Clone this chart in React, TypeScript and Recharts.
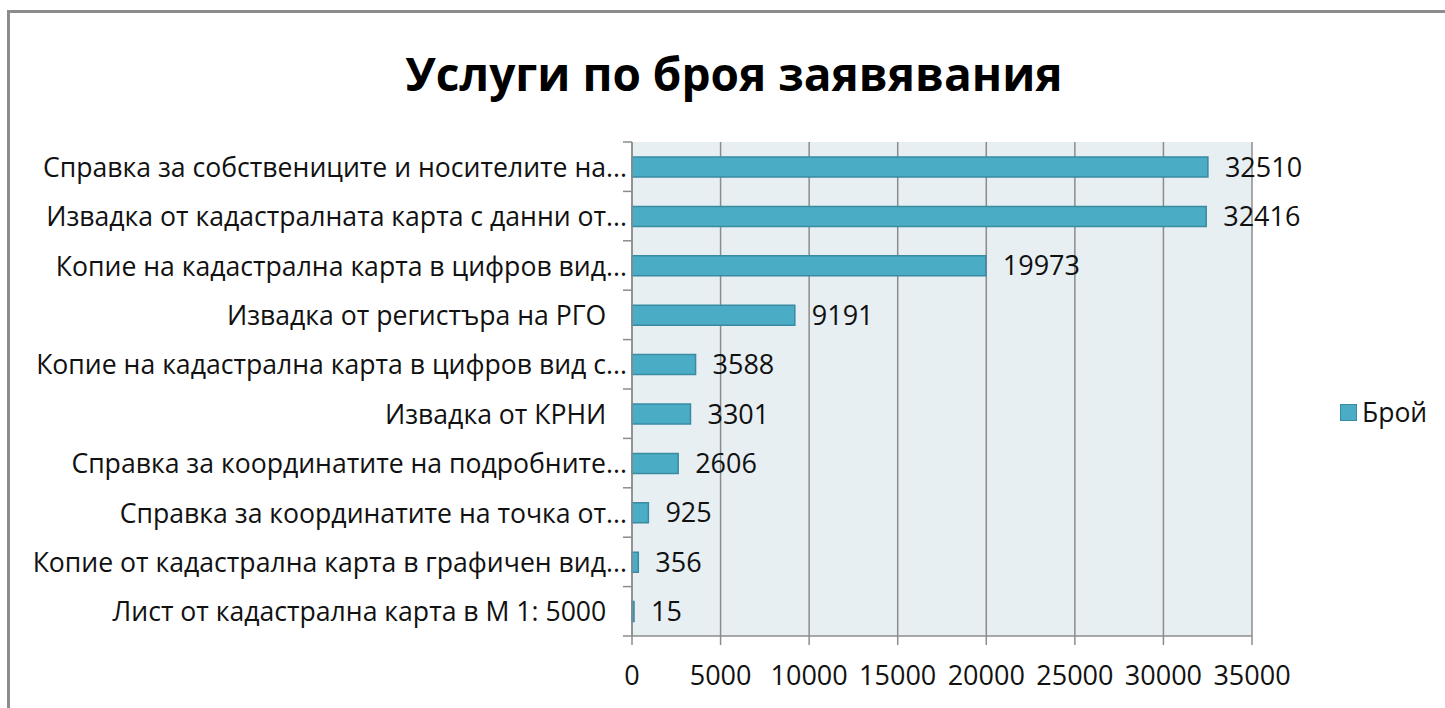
import React from 'react';
import {
  BarChart,
  Bar,
  XAxis,
  YAxis,
  CartesianGrid,
  LabelList,
  Legend,
} from 'recharts';

const chartTitle = 'Услуги по броя заявявания';
const seriesName = 'Брой';

const categories = [
  'Справка за собствениците и носителите на...',
  'Извадка от кадастралната карта с данни от...',
  'Копие на кадастрална карта в цифров вид...',
  'Извадка от регистъра на РГО\u00a0\u00a0\u00a0',
  'Копие на кадастрална карта в цифров вид с...',
  'Извадка от КРНИ\u00a0\u00a0\u00a0',
  'Справка за координатите на подробните...',
  'Справка за координатите на точка от...',
  'Копие от кадастрална карта в графичен вид...',
  'Лист от кадастрална карта в М 1: 5000\u00a0\u00a0\u00a0',
];
const counts = [32510, 32416, 19973, 9191, 3588, 3301, 2606, 925, 356, 15];
const xTicks = [0, 5000, 10000, 15000, 20000, 25000, 30000, 35000];

const chartData = categories.map((name, i) => ({ name, value: counts[i] }));

const FONT = '"Open Sans", sans-serif';
const GRID = '#8c8c8c';
const BAR = '#4bacc6';
const BAR_EDGE = '#3a8aa2';

// category tick: label + short tick marks on the category boundaries (Excel style)
const CategoryTick = (props: any) => {
  const { x, y, payload, index, visibleTicksCount, height } = props;
  const half = payload?.offset > 0 ? payload.offset : height / (visibleTicksCount * 2);
  const axisX = x + 5;
  return (
    <g>
      <line x1={axisX - 9} x2={axisX} y1={y - half} y2={y - half} stroke={GRID} strokeWidth={1.5} />
      {index === visibleTicksCount - 1 && (
        <line x1={axisX - 9} x2={axisX} y1={y + half} y2={y + half} stroke={GRID} strokeWidth={1.5} />
      )}
      <text x={x} y={y} textAnchor="end" dominantBaseline="central" fontFamily={FONT} fontSize={26.6} fill="#111">
        {payload.value}
      </text>
    </g>
  );
};

const LegendBox = () => (
  <div style={{ display: 'flex', alignItems: 'center', fontFamily: FONT, fontSize: 26.5, color: '#111' }}>
    <span style={{ width: 15, height: 15, background: BAR, border: `1.5px solid ${BAR_EDGE}`, marginRight: 5 }} />
    <span>{seriesName}</span>
  </div>
);

export default function App() {
  return (
    <div style={{ position: 'absolute', left: 0, top: 0, width: 1445, height: 708, overflow: 'hidden', background: '#fff' }}>
      <div
        style={{
          position: 'absolute',
          left: 7,
          top: 10,
          width: 1500,
          height: 800,
          border: '3px solid #8c8c8c',
        }}
      />
      <div
        style={{
          position: 'absolute',
          left: 0,
          top: 42,
          width: 1468,
          textAlign: 'center',
          fontFamily: FONT,
          fontWeight: 700,
          fontSize: 46,
          color: '#000',
          lineHeight: '62px',
        }}
      >
        {chartTitle}
      </div>
      <div style={{ position: 'absolute', left: 0, top: 0 }}>
        <BarChart
          width={1445}
          height={708}
          data={chartData}
          layout="vertical"
          margin={{ top: 142, right: 86, bottom: 12, left: 0 }}
          barCategoryGap={0}
        >
          <CartesianGrid
            horizontal={false}
            stroke={GRID}
            strokeWidth={1.5}
            fill="#e8eff3"
            fillOpacity={1}
          />
          <XAxis
            type="number"
            domain={[0, 35000]}
            ticks={xTicks}
            interval={0}
            height={60}
            axisLine={{ stroke: GRID, strokeWidth: 1.5 }}
            tickLine={{ stroke: GRID, strokeWidth: 1.5 }}
            tickSize={9}
            tickMargin={21}
            tick={{ fontFamily: FONT, fontSize: 27, fill: '#111' }}
          />
          <YAxis
            type="category"
            dataKey="name"
            width={632}
            interval={0}
            axisLine={{ stroke: GRID, strokeWidth: 1.5 }}
            tickLine={false}
            tickSize={0}
            tickMargin={5}
            tick={<CategoryTick />}
          />
          <Legend
            layout="vertical"
            align="right"
            verticalAlign="middle"
            width={107}
            content={<LegendBox />}
            wrapperStyle={{ left: 1340, top: 394, right: 'auto' }}
          />
          <Bar
            dataKey="value"
            name={seriesName}
            fill={BAR}
            stroke={BAR_EDGE}
            strokeWidth={1.5}
            barSize={20}
            minPointSize={2}
            isAnimationActive={false}
          >
            <LabelList
              dataKey="value"
              position="right"
              offset={17}
              fill="#111"
              fontFamily={FONT}
              fontSize={27}
            />
          </Bar>
        </BarChart>
      </div>
    </div>
  );
}
